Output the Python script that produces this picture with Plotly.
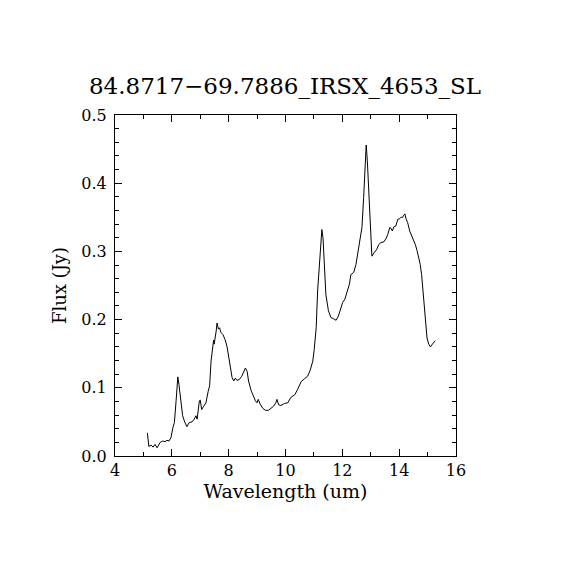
import plotly.graph_objects as go

wavelength = [5.14, 5.19, 5.27, 5.34, 5.41, 5.48, 5.59, 5.68, 5.76, 5.83, 5.90, 5.97, 6.04, 6.09, 6.15,
              6.21, 6.25, 6.32, 6.38, 6.46, 6.53, 6.61, 6.71, 6.79, 6.85, 6.89, 6.97, 7.00, 7.05, 7.12,
              7.20, 7.28, 7.33, 7.38, 7.44, 7.47, 7.49, 7.53, 7.56, 7.59, 7.64, 7.68, 7.73, 7.80, 7.87,
              7.94, 7.99, 8.05, 8.12, 8.18, 8.23, 8.29, 8.37, 8.46, 8.53, 8.59, 8.65, 8.70, 8.79, 8.87,
              8.94, 9.00, 9.04, 9.11, 9.20, 9.29, 9.40, 9.49, 9.58, 9.66, 9.70, 9.76, 9.84, 9.96, 10.08,
              10.19, 10.33, 10.43, 10.55, 10.66, 10.78, 10.87, 10.96, 11.01, 11.08, 11.13, 11.20, 11.25,
              11.28, 11.32, 11.37, 11.42, 11.51, 11.60, 11.70, 11.78, 11.86, 11.93, 12.01, 12.09, 12.16,
              12.25, 12.30, 12.40, 12.48, 12.56, 12.63, 12.69, 12.75, 12.80, 12.84, 12.88, 12.93, 12.97,
              13.01, 13.04, 13.12, 13.21, 13.28, 13.36, 13.46, 13.54, 13.60, 13.67, 13.71, 13.76, 13.81,
              13.88, 13.95, 14.02, 14.06, 14.12, 14.16, 14.20, 14.24, 14.30, 14.37, 14.44, 14.51, 14.57,
              14.63, 14.69, 14.74, 14.79, 14.84, 14.88, 14.93, 14.98, 15.04, 15.10, 15.17, 15.22, 15.27]

flux = [0.034, 0.014, 0.016, 0.013, 0.017, 0.012, 0.020, 0.022, 0.021, 0.023, 0.022, 0.027, 0.042, 0.049, 0.081,
        0.116, 0.105, 0.076, 0.059, 0.049, 0.043, 0.049, 0.050, 0.054, 0.059, 0.054, 0.081, 0.082, 0.068, 0.073,
        0.078, 0.095, 0.103, 0.139, 0.166, 0.170, 0.164, 0.181, 0.183, 0.195, 0.186, 0.188, 0.181, 0.178, 0.171,
        0.161, 0.149, 0.129, 0.115, 0.110, 0.114, 0.111, 0.112, 0.117, 0.125, 0.129, 0.124, 0.110, 0.096, 0.088,
        0.081, 0.078, 0.083, 0.076, 0.070, 0.067, 0.067, 0.070, 0.073, 0.078, 0.083, 0.075, 0.074, 0.077, 0.078,
        0.086, 0.090, 0.098, 0.109, 0.113, 0.117, 0.126, 0.139, 0.156, 0.188, 0.242, 0.291, 0.325,
        0.332, 0.320, 0.271, 0.237, 0.213, 0.203, 0.201, 0.199, 0.205, 0.215, 0.225, 0.230, 0.240,
        0.252, 0.266, 0.269, 0.281, 0.301, 0.320, 0.335, 0.379, 0.413, 0.456, 0.433, 0.389, 0.335,
        0.298, 0.293, 0.298, 0.303, 0.310, 0.313, 0.314, 0.319, 0.325, 0.335, 0.334, 0.330, 0.336,
        0.337, 0.347, 0.348, 0.350, 0.350, 0.353, 0.355, 0.348, 0.342, 0.330, 0.323, 0.318, 0.310,
        0.301, 0.291, 0.281, 0.266, 0.242, 0.217, 0.193, 0.173, 0.164, 0.160, 0.164, 0.166, 0.169]

x_ticks = [4, 6, 8, 10, 12, 14, 16]
y_ticks = [0.0, 0.1, 0.2, 0.3, 0.4, 0.5]

FONT = "DejaVu Serif"

fig = go.Figure(go.Scatter(x=wavelength, y=flux, mode="lines",
                           line=dict(color="black", width=1), hoverinfo="skip"))

axis_common = dict(showgrid=False, zeroline=False, showline=True, linecolor="black", linewidth=1,
                   mirror="ticks", ticks="inside", ticklen=7, tickwidth=1, tickcolor="black",
                   tickfont=dict(family=FONT, size=16, color="black"))

fig.update_xaxes(range=[4, 16], tickvals=x_ticks, ticktext=[str(v) for v in x_ticks],
                 minor=dict(dtick=1, tick0=4, ticks="inside", ticklen=4, tickcolor="black"),
                 title=dict(text="Wavelength (um)", font=dict(family=FONT, size=19, color="black"),
                            standoff=4),
                 **axis_common)
fig.update_yaxes(range=[0, 0.5], tickvals=y_ticks, ticktext=[f"{v:.1f}" for v in y_ticks],
                 minor=dict(dtick=0.02, tick0=0, ticks="inside", ticklen=4, tickcolor="black"),
                 ticklabelstandoff=4,
                 title=dict(text="Flux (Jy)", font=dict(family=FONT, size=18, color="black"),
                            standoff=10),
                 **axis_common)

fig.update_layout(
    width=570, height=570,
    margin=dict(l=107, r=122, t=107, b=122),
    paper_bgcolor="white", plot_bgcolor="white",
    showlegend=False,
    title=dict(text="84.8717\u221269.7886_IRSX_4653_SL", x=(284 - 7) / 570, xanchor="center",
               y=1 - 78 / 570, yanchor="middle",
               font=dict(family=FONT, size=23, color="black")),
)

fig.write_html("out.html")
